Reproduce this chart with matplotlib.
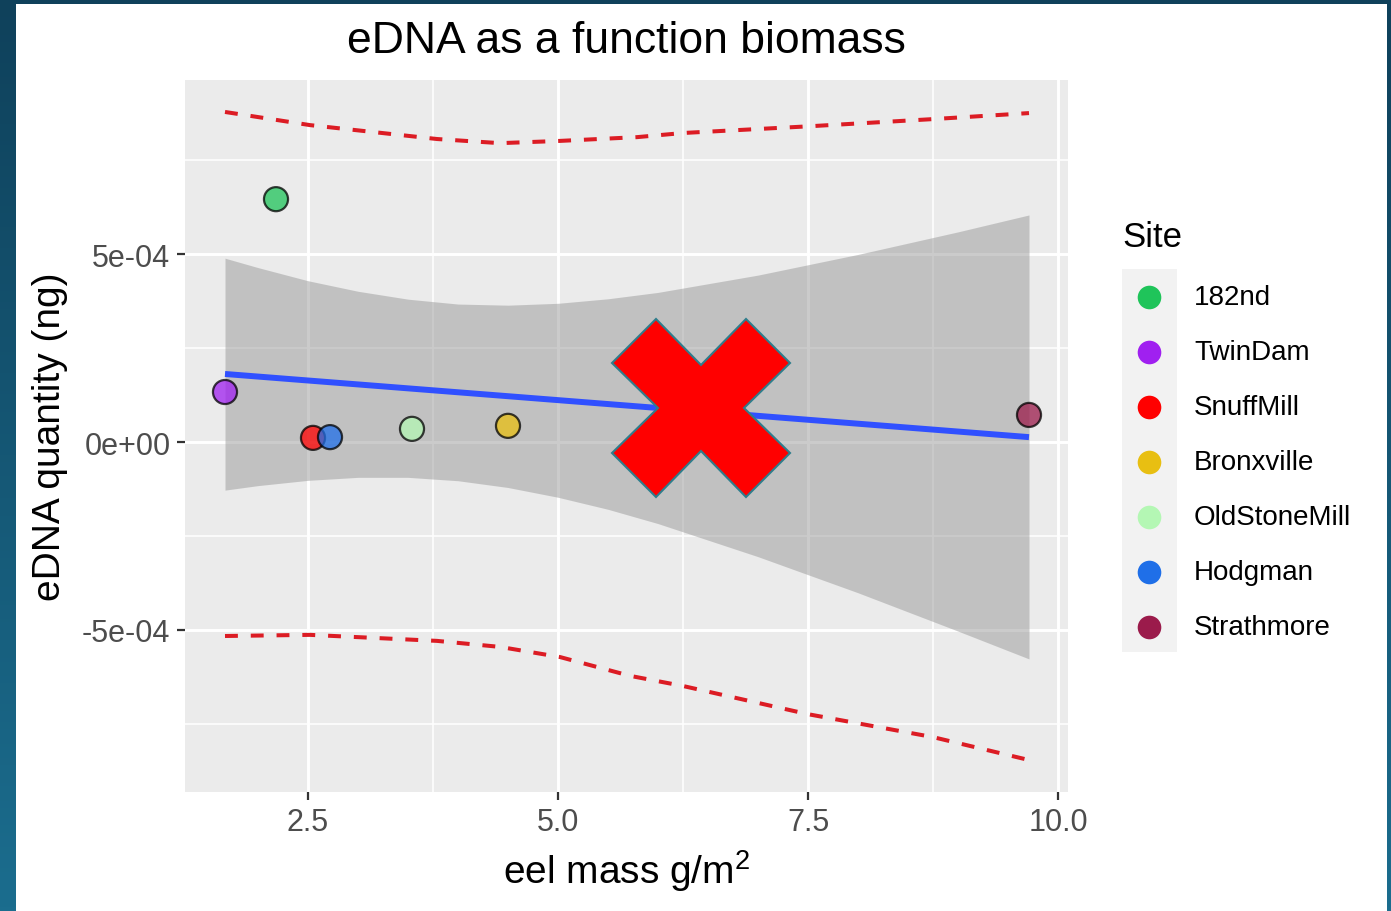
import numpy as np
import matplotlib
matplotlib.use("Agg")
import matplotlib.pyplot as plt
from matplotlib.colors import LinearSegmentedColormap
from matplotlib.patches import Rectangle, Polygon

plt.rcParams['font.family'] = ['Liberation Sans', 'DejaVu Sans']
plt.rcParams['mathtext.fontset'] = 'custom'
plt.rcParams['mathtext.rm'] = 'Liberation Sans'

# data
sites = ["182nd", "TwinDam", "SnuffMill", "Bronxville", "OldStoneMill", "Hodgman", "Strathmore"]
site_colors = ["#1fc45a", "#a020f0", "#ff0000", "#e8bf12", "#b4f7b4", "#1f6fe8", "#9b1b4b"]
eel_mass = [2.18, 1.67, 2.55, 4.50, 3.54, 2.72, 9.71]
edna = [6.46e-4, 1.33e-4, 1.1e-5, 4.3e-5, 3.5e-5, 1.3e-5, 7.2e-5]

fit_x = [1.67, 9.71]
fit_y = [1.81e-4, 1.3e-5]

band_x = [1.67, 2.0, 2.5, 3.0, 3.5, 4.0, 4.5, 5.0, 5.5, 6.0, 7.0, 8.0, 9.0, 9.71]
band_hi = [4.89e-4, 4.64e-4, 4.29e-4, 4.01e-4, 3.80e-4, 3.67e-4, 3.64e-4,
           3.69e-4, 3.81e-4, 3.98e-4, 4.44e-4, 4.99e-4, 5.59e-4, 6.04e-4]
band_lo = [-1.28e-4, -1.16e-4, -1.02e-4, -0.94e-4, -0.94e-4, -1.03e-4, -1.21e-4,
           -1.47e-4, -1.79e-4, -2.17e-4, -3.05e-4, -4.01e-4, -5.03e-4, -5.77e-4]

pi_x = [1.67, 2.52, 3.79, 4.42, 5.02, 5.79, 6.25, 7.52, 8.75, 9.71]
pi_hi = [8.78e-4, 8.43e-4, 8.06e-4, 7.95e-4, 8.01e-4, 8.11e-4, 8.22e-4, 8.40e-4, 8.59e-4, 8.75e-4]
pi_lo_x = [1.67, 2.52, 3.79, 4.42, 5.02, 5.72, 6.25, 7.50, 8.75, 9.71]
pi_lo = [-5.16e-4, -5.13e-4, -5.29e-4, -5.45e-4, -5.72e-4, -6.22e-4, -6.49e-4, -7.24e-4, -7.85e-4, -8.46e-4]

x_ticks = [2.5, 5.0, 7.5, 10.0]
x_tick_labels = ["2.5", "5.0", "7.5", "10.0"]
y_ticks = [-5e-4, 0, 5e-4]
y_tick_labels = ["-5e-04", "0e+00", "5e-04"]

W, H = 1391, 912
fig = plt.figure(figsize=(W / 100, H / 100), dpi=100)

# slide background: dark blue gradient frame with white panel
bg = fig.add_axes([0, 0, 1, 1], zorder=-10)
cmap = LinearSegmentedColormap.from_list("frame", ["#0f415b", "#1b6d8e"])
bg.imshow(np.linspace(0, 1, 256).reshape(-1, 1), aspect='auto', cmap=cmap,
          extent=[0, 1, 0, 1], transform=bg.transAxes)
bg.add_patch(Rectangle((16 / W, 0), (1387 - 16) / W, (H - 5) / H,
                       transform=bg.transAxes, facecolor="white", edgecolor="none"))
bg.set_xlim(0, 1)
bg.set_ylim(0, 1)
bg.axis('off')

ax = fig.add_axes([185 / W, (H - 793) / H, (1068 - 185) / W, (793 - 81) / H])
ax.set_facecolor("#ebebeb")
for s in ax.spines.values():
    s.set_visible(False)
ax.set_xlim(1.27, 10.1)
ax.set_ylim(-9.31e-4, 9.63e-4)

ax.set_xticks(x_ticks)
ax.set_xticklabels(x_tick_labels)
ax.set_yticks(y_ticks)
ax.set_yticklabels(y_tick_labels)
ax.set_xticks([3.75, 6.25, 8.75], minor=True)
ax.set_yticks([-7.5e-4, -2.5e-4, 2.5e-4, 7.5e-4], minor=True)
ax.grid(which='major', color='white', lw=2.1)
ax.grid(which='minor', color='white', lw=1.1)
ax.set_axisbelow(True)
ax.tick_params(which='major', length=5.5, width=1.6, color='#333333',
               labelsize=22, labelcolor='#4d4d4d', pad=5)
ax.tick_params(which='minor', length=0)

ax.fill_between(band_x, band_lo, band_hi, color="#999999", alpha=0.5, lw=0, zorder=2)
ax.plot(fit_x, fit_y, color="#3050ff", lw=4.3, solid_capstyle='butt', zorder=3)
ax.plot(pi_x, pi_hi, color="#dc1c24", lw=2.9, dashes=(3.2, 3.2), zorder=3)
ax.plot(pi_lo_x, pi_lo, color="#dc1c24", lw=2.9, dashes=(3.2, 3.2), zorder=3)

ax.scatter(eel_mass, edna, s=300, c=site_colors, alpha=0.75,
           edgecolors='black', linewidths=1.6, zorder=4)

ax.set_title("eDNA as a function biomass", fontsize=32, pad=20)
ax.set_xlabel(r"eel mass g/m$^\mathregular{2}$", fontsize=28, labelpad=8)
ax.set_ylabel("eDNA quantity (ng)", fontsize=28, labelpad=10)

# overlay in pixel coordinates: legend and the red cross
ov = fig.add_axes([0, 0, 1, 1], zorder=5)
ov.set_xlim(0, W)
ov.set_ylim(H, 0)
ov.axis('off')

ov.text(1122, 238, "Site", fontsize=25, va='center', ha='left')
ov.add_patch(Rectangle((1122, 270), 55, 383, facecolor="#f2f2f2", edgecolor="none"))
for i, (name, col) in enumerate(zip(sites, site_colors)):
    yk = 298 + 55 * i
    ov.plot([1149], [yk], 'o', ms=17, color=col, mec='none')
    ov.text(1194, yk, name, fontsize=20, va='center', ha='left')

cx, cy, a, b, n = 701, 409, 45, 89, 43
cross = [(-a, -b), (-b, -a), (-n, 0), (-b, a), (-a, b), (0, n),
         (a, b), (b, a), (n, 0), (b, -a), (a, -b), (0, -n)]
ov.add_patch(Polygon([(cx + dx, cy + dy) for dx, dy in cross], closed=True,
                     facecolor="#ff0000", edgecolor="#2f7d8c", lw=1.5))

fig.savefig("out.png", dpi=100)
